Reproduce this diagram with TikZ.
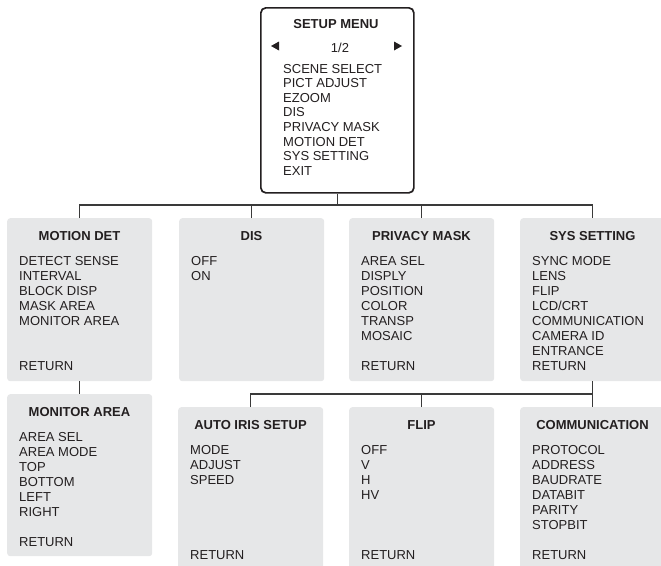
\documentclass[tikz,border=0pt]{standalone}
\usepackage{fontspec}
\setmainfont{Liberation Sans}
\usetikzlibrary{calc}
\definecolor{ink}{HTML}{231F20}
\definecolor{wirecol}{HTML}{3A3A3A}
\definecolor{panelfill}{HTML}{E6E7E8}

\tikzset{
  panel/.style={fill=panelfill, draw=none, rounded corners=3pt, inner sep=0pt,
    minimum width=145pt, anchor=north west},
  mainbox/.style={draw=ink, line width=1.7pt, rounded corners=5pt, fill=white,
    inner sep=0pt, anchor=north west},
  wire/.style={draw=wirecol, line width=1.3pt},
  head/.style={font=\bfseries\fontsize{13}{15}\selectfont, anchor=base,
    inner sep=0pt, text=ink},
  entry/.style={font=\fontsize{13}{15}\selectfont, anchor=base west,
    inner sep=0pt, text=ink},
}

% #1 name, #2 left, #3 top, #4 height, #5 title, #6 slot/text list
\newcommand\menupanel[6]{%
  \node[panel, minimum height=#4pt] (#1) at (#2,#3) {};
  \node[head] (#1-title) at ($(#2,#3)+(72.5,22)$) {#5};
  \foreach \k/\t in {#6}{%
    \node[entry] (#1-\k) at ($(#2,#3)+(12,47+15*\k-15)$) {\t};
  }%
}

\begin{document}
\begin{tikzpicture}[x=1pt,y=-1pt]
\path[clip] (0,0) rectangle (661,565);

% main menu
\node[mainbox, minimum width=153pt, minimum height=185pt] (setup) at (260,7) {};
\node[head] (setup-title) at (336,28) {SETUP MENU};
\node[entry, anchor=base] (setup-page) at (340,52) {1/2};
\fill[ink] (271,46) -- (279,41.5) -- (279,50.5) -- cycle;
\fill[ink] (402,46) -- (394,41.5) -- (394,50.5) -- cycle;
\foreach \k/\t in {1/SCENE SELECT,2/PICT ADJUST,3/EZOOM,4/DIS,5/PRIVACY MASK,
                   6/MOTION DET,7/SYS SETTING,8/EXIT}{
  \node[entry] (setup-\k) at (283,{73+14.6*(\k-1)}) {\t};
}

% first level
\menupanel{motion}{7}{218}{163}{MOTION DET}{1/DETECT SENSE,2/INTERVAL,3/BLOCK DISP,4/MASK AREA,5/MONITOR AREA,8/RETURN}
\menupanel{dis}{179}{218}{163}{DIS}{1/OFF,2/ON}
\menupanel{privacy}{349}{218}{163}{PRIVACY MASK}{1/AREA SEL,2/DISPLY,3/POSITION,4/COLOR,5/TRANSP,6/MOSAIC,8/RETURN}
\menupanel{sys}{520}{218}{163}{SYS SETTING}{1/SYNC MODE,2/LENS,3/FLIP,4/{LCD/CRT},5/COMMUNICATION,6/CAMERA ID,7/ENTRANCE,8/RETURN}

% second level
\menupanel{monitor}{7}{394}{162}{MONITOR AREA}{1/AREA SEL,2/AREA MODE,3/TOP,4/BOTTOM,5/LEFT,6/RIGHT,8/RETURN}
\menupanel{iris}{178}{407}{180}{AUTO IRIS SETUP}{1/MODE,2/ADJUST,3/SPEED,8/RETURN}
\menupanel{flip}{349}{407}{180}{FLIP}{1/OFF,2/V,3/H,4/HV,8/RETURN}
\menupanel{comm}{520}{407}{180}{COMMUNICATION}{1/PROTOCOL,2/ADDRESS,3/BAUDRATE,4/DATABIT,5/PARITY,6/STOPBIT,8/RETURN}

% connectors
\coordinate (upbus) at (336,205);
\coordinate (lowbus) at (420,394);
\draw[wire] (setup.south) -- (setup.south |- upbus);
\draw[wire] (motion.north) -- (motion.north |- upbus) -- (sys.north |- upbus) -- (sys.north);
\draw[wire] (dis.north) -- (dis.north |- upbus);
\draw[wire] (privacy.north) -- (privacy.north |- upbus);
\draw[wire] (motion.south) -- (monitor.north);
\draw[wire] (sys.south) -- (sys.south |- lowbus);
\draw[wire] (iris.north) -- (iris.north |- lowbus) -- (comm.north |- lowbus) -- (comm.north);
\draw[wire] (flip.north) -- (flip.north |- lowbus);
\end{tikzpicture}
\end{document}
